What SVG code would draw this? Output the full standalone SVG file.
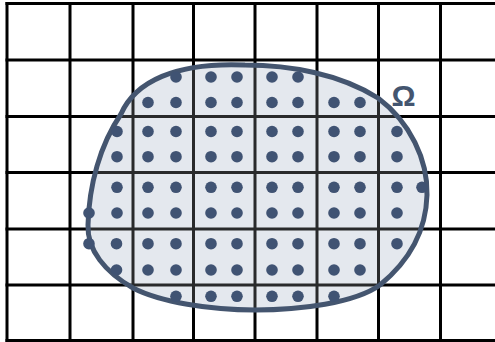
<svg xmlns="http://www.w3.org/2000/svg" width="495" height="342" viewBox="0 0 495 342">
  <style>
    .grid line { stroke: #000; stroke-width: 3; }
    .dots circle { fill: #405373; }
    .blob-fill { fill: #e5e8ee; stroke: none; }
    .blob-veil { fill: #e5e8ee; fill-opacity: 0.18; stroke: none; }
    .blob-edge { fill: none; stroke: #44556f; stroke-width: 5; }
    .label { font-family: "Liberation Sans", Arial, sans-serif; font-weight: bold; font-size: 30px; fill: #44556f; }
  </style>
  <defs>
    <path id="omega" d="M 245 65 C 290 65, 340 74, 378 98 C 410 122, 428 160, 427 195 C 426 232, 408 262, 380 285 C 355 303, 300 310, 255 310 C 210 310, 160 302, 133 288 C 105 272, 87 250, 88 225 C 89 185, 100 145, 121 114 C 135 82, 175 62, 245 65 Z"/>
  </defs>
  <rect width="495" height="342" fill="#fff"/>
  <use href="#omega" class="blob-fill"/>
  <g id="grid" class="grid">
    <line x1="7" y1="2" x2="7" y2="342"/>
    <line x1="70" y1="2" x2="70" y2="342"/>
    <line x1="133" y1="2" x2="133" y2="342"/>
    <line x1="193.5" y1="2" x2="193.5" y2="342"/>
    <line x1="255" y1="2" x2="255" y2="342"/>
    <line x1="317" y1="2" x2="317" y2="342"/>
    <line x1="378.5" y1="2" x2="378.5" y2="342"/>
    <line x1="440.5" y1="2" x2="440.5" y2="342"/>
    <line x1="5.5" y1="3.5" x2="495" y2="3.5"/>
    <line x1="5.5" y1="60" x2="495" y2="60"/>
    <line x1="5.5" y1="116.5" x2="495" y2="116.5"/>
    <line x1="5.5" y1="172.5" x2="495" y2="172.5"/>
    <line x1="5.5" y1="229" x2="495" y2="229"/>
    <line x1="5.5" y1="285" x2="495" y2="285"/>
    <line x1="5.5" y1="340.5" x2="495" y2="340.5"/>
  </g>
  <g id="domain">
    <use href="#omega" class="blob-veil"/>
    <use href="#omega" class="blob-edge"/>
  </g>
  <g id="dots" class="dots">
    <circle cx="176" cy="77" r="5.8"/><circle cx="211" cy="77" r="5.8"/><circle cx="237" cy="77" r="5.8"/><circle cx="272" cy="77" r="5.8"/><circle cx="298" cy="77" r="5.8"/>
    <circle cx="148" cy="102.5" r="5.8"/><circle cx="176" cy="102.5" r="5.8"/><circle cx="211" cy="102.5" r="5.8"/><circle cx="237" cy="102.5" r="5.8"/><circle cx="272" cy="102.5" r="5.8"/><circle cx="298" cy="102.5" r="5.8"/><circle cx="334" cy="102.5" r="5.8"/><circle cx="360" cy="102.5" r="5.8"/>
    <circle cx="117" cy="131.5" r="5.8"/><circle cx="148" cy="131.5" r="5.8"/><circle cx="176" cy="131.5" r="5.8"/><circle cx="211" cy="131.5" r="5.8"/><circle cx="237" cy="131.5" r="5.8"/><circle cx="272" cy="131.5" r="5.8"/><circle cx="298" cy="131.5" r="5.8"/><circle cx="334" cy="131.5" r="5.8"/><circle cx="360" cy="131.5" r="5.8"/><circle cx="397" cy="131.5" r="5.8"/>
    <circle cx="117" cy="156.7" r="5.8"/><circle cx="148" cy="156.7" r="5.8"/><circle cx="176" cy="156.7" r="5.8"/><circle cx="211" cy="156.7" r="5.8"/><circle cx="237" cy="156.7" r="5.8"/><circle cx="272" cy="156.7" r="5.8"/><circle cx="298" cy="156.7" r="5.8"/><circle cx="334" cy="156.7" r="5.8"/><circle cx="360" cy="156.7" r="5.8"/><circle cx="397" cy="156.7" r="5.8"/>
    <circle cx="117" cy="187.3" r="5.8"/><circle cx="148" cy="187.3" r="5.8"/><circle cx="176" cy="187.3" r="5.8"/><circle cx="211" cy="187.3" r="5.8"/><circle cx="237" cy="187.3" r="5.8"/><circle cx="272" cy="187.3" r="5.8"/><circle cx="298" cy="187.3" r="5.8"/><circle cx="334" cy="187.3" r="5.8"/><circle cx="360" cy="187.3" r="5.8"/><circle cx="397" cy="187.3" r="5.8"/><circle cx="422" cy="187.3" r="5.8"/>
    <circle cx="89" cy="213" r="5.8"/><circle cx="117" cy="213" r="5.8"/><circle cx="148" cy="213" r="5.8"/><circle cx="176" cy="213" r="5.8"/><circle cx="211" cy="213" r="5.8"/><circle cx="237" cy="213" r="5.8"/><circle cx="272" cy="213" r="5.8"/><circle cx="298" cy="213" r="5.8"/><circle cx="334" cy="213" r="5.8"/><circle cx="360" cy="213" r="5.8"/><circle cx="397" cy="213" r="5.8"/>
    <circle cx="89" cy="243.7" r="5.8"/><circle cx="116.5" cy="243.7" r="5.8"/><circle cx="148" cy="243.7" r="5.8"/><circle cx="176" cy="243.7" r="5.8"/><circle cx="211" cy="243.7" r="5.8"/><circle cx="237" cy="243.7" r="5.8"/><circle cx="272" cy="243.7" r="5.8"/><circle cx="298" cy="243.7" r="5.8"/><circle cx="334" cy="243.7" r="5.8"/><circle cx="360" cy="243.7" r="5.8"/><circle cx="397" cy="243.7" r="5.8"/>
    <circle cx="116.5" cy="270" r="5.8"/><circle cx="148" cy="270" r="5.8"/><circle cx="176" cy="270" r="5.8"/><circle cx="211" cy="270" r="5.8"/><circle cx="237" cy="270" r="5.8"/><circle cx="272" cy="270" r="5.8"/><circle cx="298" cy="270" r="5.8"/><circle cx="334" cy="270" r="5.8"/><circle cx="360" cy="270" r="5.8"/>
    <circle cx="176" cy="296.3" r="5.8"/><circle cx="211" cy="296.3" r="5.8"/><circle cx="237" cy="296.3" r="5.8"/><circle cx="272" cy="296.3" r="5.8"/><circle cx="298" cy="296.3" r="5.8"/><circle cx="334" cy="296.3" r="5.8"/>
  </g>
  <g id="label-omega">
    <text class="label" x="403.5" y="105.5" text-anchor="middle">Ω</text>
  </g>
</svg>
